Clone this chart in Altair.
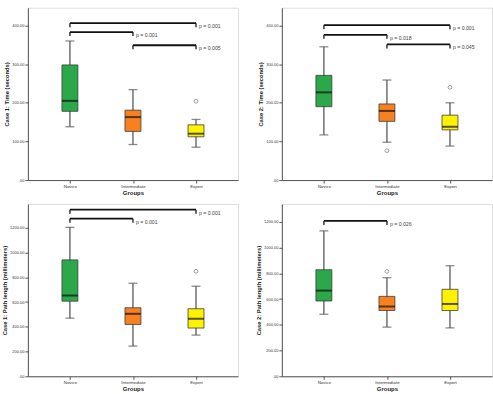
import altair as alt
import pandas as pd

GROUPS = ["Novice", "Intermediate", "Expert"]
COLORS = ["#2ba84a", "#f7811f", "#fff200"]

# Case 1: Time (seconds)
T1_LOW = [138, 92, 85]
T1_Q1 = [178, 126, 112]
T1_MED = [205, 163, 120]
T1_Q3 = [298, 181, 143]
T1_HIGH = [360, 234, 157]
T1_OUT_GROUP = ["Expert"]
T1_OUT_VALUE = [204]
T1_BR_FROM = ["Novice", "Novice", "Intermediate"]
T1_BR_TO = ["Expert", "Intermediate", "Expert"]
T1_BR_LEVEL = [406, 383, 349]
T1_BR_LABEL = ["p = 0.001", "p = 0.001", "p = 0.005"]

# Case 2: Time (seconds)
T2_LOW = [117, 98, 88]
T2_Q1 = [190, 152, 130]
T2_MED = [227, 179, 138]
T2_Q3 = [271, 197, 168]
T2_HIGH = [345, 259, 200]
T2_OUT_GROUP = ["Intermediate", "Expert"]
T2_OUT_VALUE = [76, 240]
T2_BR_FROM = ["Novice", "Novice", "Intermediate"]
T2_BR_TO = ["Expert", "Intermediate", "Expert"]
T2_BR_LEVEL = [401, 376, 351]
T2_BR_LABEL = ["p = 0.001", "p = 0.018", "p = 0.045"]

# Case 1: Path length (millimeters)
P1_LOW = [470, 244, 333]
P1_Q1 = [607, 419, 390]
P1_MED = [653, 505, 465]
P1_Q3 = [941, 554, 546]
P1_HIGH = [1204, 752, 728]
P1_OUT_GROUP = ["Expert"]
P1_OUT_VALUE = [849]
P1_BR_FROM = ["Novice", "Novice"]
P1_BR_TO = ["Expert", "Intermediate"]
P1_BR_LEVEL = [1347, 1274]
P1_BR_LABEL = ["p = 0.001", "p = 0.001"]

# Case 2: Path length (millimeters)
P2_LOW = [482, 382, 376]
P2_Q1 = [585, 511, 511]
P2_MED = [666, 542, 562]
P2_Q3 = [828, 621, 676]
P2_HIGH = [1130, 766, 859]
P2_OUT_GROUP = ["Intermediate"]
P2_OUT_VALUE = [815]
P2_BR_FROM = ["Novice"]
P2_BR_TO = ["Intermediate"]
P2_BR_LEVEL = [1207]
P2_BR_LABEL = ["p = 0.026"]

FONT = "Liberation Sans"
W, H = 211, 173


def panel(ytitle, low, q1, med, q3, high, out_g, out_v,
          br_from, br_to, br_level, br_label, ymax, yticks):
    box = pd.DataFrame({"group": GROUPS, "low": low, "q1": q1, "med": med,
                        "q3": q3, "high": high})
    outl = pd.DataFrame({"group": out_g, "value": out_v})
    br = pd.DataFrame({"from": br_from, "to": br_to, "level": br_level,
                       "label": br_label})
    ends = pd.DataFrame({"group": list(br_from) + list(br_to),
                         "level": list(br_level) * 2})

    xscale = alt.Scale(type="point", domain=GROUPS, padding=2 / 3)
    xaxis = alt.Axis(title="Groups", labelFontSize=4.4, labelColor="#333",
                     titleFontSize=6, titleFontWeight="bold", titlePadding=2,
                     tickSize=3, labelPadding=1, domainColor="#555",
                     tickColor="#555", labelAngle=0, titleColor="#222")
    yscale = alt.Scale(domain=[0, ymax], nice=False, zero=True)
    yaxis = alt.Axis(title=ytitle, values=yticks, grid=False,
                     labelExpr="datum.value == 0 ? '.00' : format(datum.value, '.2f')",
                     labelFontSize=4.0, labelColor="#333", tickSize=3,
                     labelPadding=1, titleFontSize=5.8, titleFontWeight="bold",
                     titlePadding=2, domainColor="#555", tickColor="#555",
                     titleColor="#222")

    def X(field):
        return alt.X(f"{field}:N", scale=xscale, axis=xaxis, title="Groups")

    def Y(field):
        return alt.Y(f"{field}:Q", scale=yscale, axis=yaxis, title=ytitle)

    whisker = alt.Chart(box).mark_rule(color="#5a5a5a", strokeWidth=1.3).encode(
        x=X("group"), y=Y("low"), y2="high")
    caps_lo = alt.Chart(box).mark_tick(orient="horizontal", size=9, thickness=1.3,
                                       color="#5a5a5a").encode(x=X("group"), y=Y("low"))
    caps_hi = alt.Chart(box).mark_tick(orient="horizontal", size=9, thickness=1.3,
                                       color="#5a5a5a").encode(x=X("group"), y=Y("high"))
    bars = alt.Chart(box).mark_bar(size=16, stroke="#3c3c3c", strokeWidth=0.8).encode(
        x=X("group"), y=Y("q1"), y2="q3",
        color=alt.Color("group:N", scale=alt.Scale(domain=GROUPS, range=COLORS),
                        legend=None))
    medians = alt.Chart(box).mark_tick(orient="horizontal", size=16, thickness=2,
                                       color="#111").encode(x=X("group"), y=Y("med"))
    points = alt.Chart(outl).mark_point(shape="circle", size=14, filled=False,
                                        color="#555", strokeWidth=0.8).encode(
        x=X("group"), y=Y("value"))
    lines = alt.Chart(br).mark_rule(color="#111", strokeWidth=1.8).encode(
        x=X("from"), x2="to", y=Y("level"))
    hooks = alt.Chart(ends).mark_tick(orient="vertical", size=4, thickness=1.8,
                                      yOffset=2, color="#111").encode(
        x=X("group"), y=Y("level"))
    labels = alt.Chart(br).mark_text(align="left", baseline="middle", dx=3, dy=3,
                                     fontSize=5.2, color="#444", font=FONT).encode(
        x=X("to"), y=Y("level"), text="label:N")

    return alt.layer(whisker, caps_lo, caps_hi, bars, medians, points,
                     lines, hooks, labels).properties(width=W, height=H)


c1 = panel("Case 1: Time (seconds)", T1_LOW, T1_Q1, T1_MED, T1_Q3, T1_HIGH,
           T1_OUT_GROUP, T1_OUT_VALUE, T1_BR_FROM, T1_BR_TO, T1_BR_LEVEL,
           T1_BR_LABEL, 446, [0, 100, 200, 300, 400])
c2 = panel("Case 2: Time (seconds)", T2_LOW, T2_Q1, T2_MED, T2_Q3, T2_HIGH,
           T2_OUT_GROUP, T2_OUT_VALUE, T2_BR_FROM, T2_BR_TO, T2_BR_LEVEL,
           T2_BR_LABEL, 446, [0, 100, 200, 300, 400])
c3 = panel("Case 1: Path length (millimeters)", P1_LOW, P1_Q1, P1_MED, P1_Q3,
           P1_HIGH, P1_OUT_GROUP, P1_OUT_VALUE, P1_BR_FROM, P1_BR_TO,
           P1_BR_LEVEL, P1_BR_LABEL, 1393, [0, 200, 400, 600, 800, 1000, 1200])
c4 = panel("Case 2: Path length (millimeters)", P2_LOW, P2_Q1, P2_MED, P2_Q3,
           P2_HIGH, P2_OUT_GROUP, P2_OUT_VALUE, P2_BR_FROM, P2_BR_TO,
           P2_BR_LEVEL, P2_BR_LABEL, 1339, [0, 200, 400, 600, 800, 1000, 1200])

chart = alt.concat(c1, c2, c3, c4, columns=2,
                   spacing=alt.RowColnumber(row=7, column=16)).properties(
    padding={"left": 1, "top": 6, "right": 0, "bottom": 0},
    background="white",
).configure_view(
    fill="#eeeeee", stroke="#a0a0a0", strokeWidth=1
).configure(font=FONT)

chart.save("out.html", embed_options={"renderer": "svg", "actions": False})
